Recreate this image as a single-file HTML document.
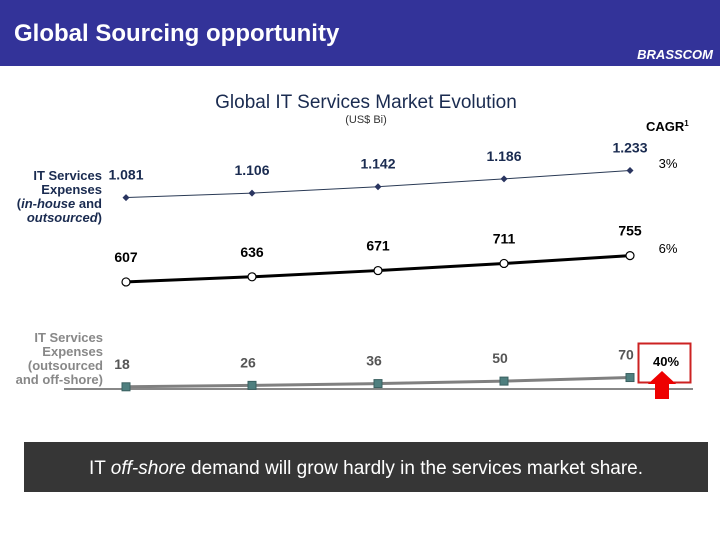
<!DOCTYPE html>
<html><head><meta charset="utf-8"><style>
body{margin:0;width:720px;height:540px;overflow:hidden;background:#fff;font-family:"Liberation Sans",sans-serif;}
svg text{font-family:"Liberation Sans",sans-serif;}
</style></head><body>
<svg id="c" width="720" height="540" xmlns="http://www.w3.org/2000/svg">
<rect x="0" y="0" width="720" height="66" fill="#333399"/>
<text x="14" y="41" fill="#fff" font-size="24" font-weight="bold">Global Sourcing opportunity</text>
<text x="713" y="59" fill="#fff" font-size="13" font-weight="bold" font-style="italic" text-anchor="end">BRASSCOM</text>
<text x="366" y="108" fill="#1a2b50" font-size="19" text-anchor="middle">Global IT Services Market Evolution</text>
<text x="366" y="123" fill="#333" font-size="11" text-anchor="middle">(US$ Bi)</text>
<text x="646" y="131" fill="#000" font-size="13" font-weight="bold">CAGR<tspan font-size="8" dy="-5">1</tspan></text>
<g font-size="13" font-weight="bold" text-anchor="end" fill="#1a2b50">
<text x="102" y="180">IT Services</text><text x="102" y="194">Expenses</text>
<text x="102" y="208">(<tspan font-style="italic">in-house</tspan> and</text>
<text x="102" y="222"><tspan font-style="italic">outsourced</tspan>)</text></g>
<g font-size="13" font-weight="bold" text-anchor="end" fill="#888">
<text x="103" y="342">IT Services</text><text x="103" y="356">Expenses</text>
<text x="103" y="370">(outsourced</text><text x="103" y="384">and off-shore)</text></g>
<line x1="64" y1="389" x2="693" y2="389" stroke="#888" stroke-width="2"/>
<g id="marks"></g>
<text x="668" y="168" font-size="13" text-anchor="middle" fill="#000">3%</text>
<text x="668" y="253" font-size="13" text-anchor="middle" fill="#000">6%</text>
<rect x="638.5" y="343.5" width="52" height="39" fill="none" stroke="#cc2222" stroke-width="2"/>
<text x="666" y="366" font-size="13" font-weight="bold" text-anchor="middle" fill="#000">40%</text>
<polygon points="662,371 676,384 669,384 669,399 655,399 655,384 648,384" fill="#ee0000"/>
<rect x="24" y="442" width="684" height="50" fill="#363636"/>
<text x="366" y="474" font-size="19" fill="#fff" text-anchor="middle">IT <tspan font-style="italic">off-shore</tspan> demand will grow hardly in the services market share.</text>
</svg>
<script>
const years = [0, 1, 2, 3, 4];
const totalValues = [1081, 1106, 1142, 1186, 1233];
const totalLabels = ["1.081", "1.106", "1.142", "1.186", "1.233"];
const outsourcedValues = [607, 636, 671, 711, 755];
const offshoreValues = [18, 26, 36, 50, 70];
const NS = "http://www.w3.org/2000/svg";
const g = document.getElementById('marks');
function xS(i){ return 126 + i * 126; }
function yS(v){ return 390 - v * 0.178; }
function mk(t, a){ const e = document.createElementNS(NS, t); for (const k in a) e.setAttribute(k, a[k]); g.appendChild(e); return e; }
function series(vals, labels, color, width, marker, name, lblColor, lblDy, lblDx){
  const pts = vals.map((v,i)=>xS(years[i])+','+yS(v)).join(' ');
  const pl = mk('polyline', {points: pts, fill: 'none', stroke: color, 'stroke-width': width});
  
  
  vals.forEach((v,i)=>{
    const x = xS(years[i]), y = yS(v);
    let m;
    if (marker === 'diamond') m = mk('polygon', {points: `${x},${y-3.5} ${x+3.5},${y} ${x},${y+3.5} ${x-3.5},${y}`, fill: '#2a3560'});
    else if (marker === 'circle') m = mk('circle', {cx: x, cy: y, r: 4, fill: '#fff', stroke: '#000', 'stroke-width': 1.2});
    else m = mk('rect', {x: x-4, y: y-4, width: 8, height: 8, fill: '#4f7f7f', stroke: '#3a6060'});
    
    
    const t = mk('text', {x: x + lblDx, y: y + lblDy, 'font-size': 14, 'font-weight': 'bold', fill: lblColor, 'text-anchor': 'middle'});
    t.textContent = labels[i];
    
    
  });
}
series(totalValues, totalLabels, '#2a3a55', 1, 'diamond', 'total', '#1a2b50', -18, 0);
series(outsourcedValues, outsourcedValues.map(String), '#000', 3, 'circle', 'outsourced', '#000', -20, 0);
series(offshoreValues, offshoreValues.map(String), '#808080', 3, 'square', 'offshore', '#555', -18, -4);
</script>
</body></html>
